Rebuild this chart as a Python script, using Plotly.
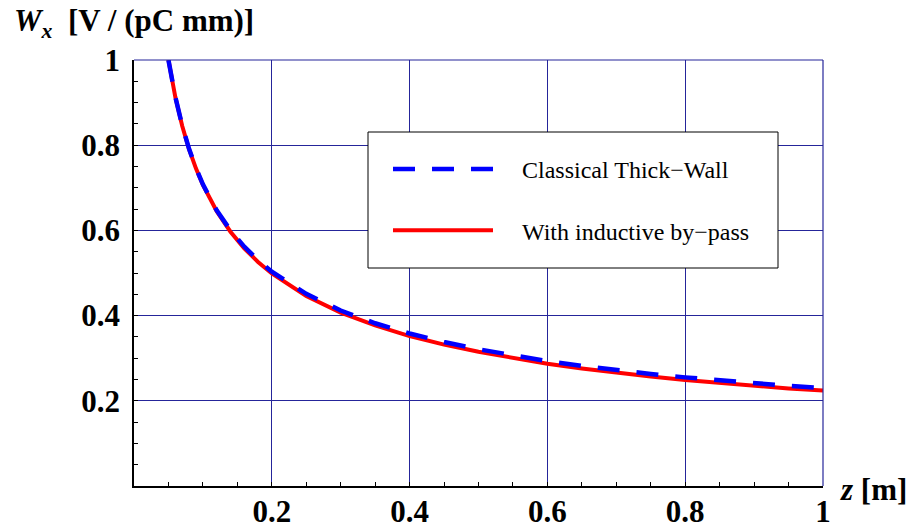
import plotly.graph_objects as go

# ---- data ----
z_vals = [0.05, 0.06, 0.07, 0.08, 0.09, 0.10, 0.12, 0.14, 0.16, 0.18, 0.20, 0.25, 0.30,
          0.35, 0.40, 0.45, 0.50, 0.55, 0.60, 0.65, 0.70, 0.75, 0.80, 0.85, 0.90, 0.95, 1.00]
w_bypass = [1.000, 0.913, 0.845, 0.790, 0.745, 0.707, 0.645, 0.597, 0.558, 0.526, 0.499,
            0.446, 0.407, 0.377, 0.352, 0.332, 0.315, 0.300, 0.287, 0.276, 0.266, 0.257,
            0.249, 0.242, 0.235, 0.229, 0.224]
w_classical = [1.000, 0.913, 0.846, 0.791, 0.746, 0.708, 0.647, 0.600, 0.562, 0.530, 0.503,
               0.451, 0.412, 0.382, 0.358, 0.338, 0.321, 0.306, 0.293, 0.282, 0.272, 0.263,
               0.255, 0.248, 0.241, 0.235, 0.230]
tick_vals = [0.2, 0.4, 0.6, 0.8, 1.0]
tick_text = ["0.2", "0.4", "0.6", "0.8", "1"]
series_names = ["Classical Thick\u2212Wall", "With inductive by\u2212pass"]

W, H = 911, 528
L, R, T, B = 134, 823, 60, 486
pw, ph = R - L, B - T


def px(x):
    return (x - L) / pw


def py(y):
    return (B - y) / ph


GRID = "#25259a"
SERIF = "'Liberation Serif', 'Times New Roman', Times, serif"
PAD = "\u00a0" * 4

fig = go.Figure()
fig.add_trace(go.Scatter(x=z_vals, y=w_bypass, mode="lines", name=PAD + series_names[1],
                         line=dict(color="#ff0000", width=4), legendgroup="b", legendrank=2))
fig.add_trace(go.Scatter(x=z_vals, y=w_classical, mode="lines", name=PAD + series_names[0],
                         line=dict(color="#0000ff", width=4.5, dash="22px,17px"),
                         legendgroup="a", legendrank=1))

axis_common = dict(
    tickvals=tick_vals, ticktext=tick_text, showgrid=True, gridcolor=GRID, gridwidth=1,
    showline=True, linecolor="black", linewidth=1.5, ticks="inside", ticklen=4,
    tickcolor="black", zeroline=False, automargin=False,
    tickfont=dict(family=SERIF, size=31, color="black", weight="bold"),
    minor=dict(dtick=0.05, tick0=0, ticks="inside", ticklen=4, tickcolor="black", showgrid=False),
)
fig.update_xaxes(range=[0, 1], ticklabelstandoff=-3, **axis_common)
fig.update_yaxes(range=[0, 1], ticklabelstandoff=6, **axis_common)

fig.update_layout(
    width=W, height=H,
    margin=dict(l=L, r=W - R, t=T, b=H - B, pad=0, autoexpand=False),
    plot_bgcolor="white", paper_bgcolor="white",
    showlegend=True,
    legend=dict(x=px(388), y=py(147), xanchor="left", yanchor="top",
                bgcolor="rgba(0,0,0,0)", borderwidth=0,
                font=dict(family=SERIF, size=24, color="black"),
                itemwidth=100, tracegroupgap=27, traceorder="grouped"),
    shapes=[
        # grid lines on the top and right edges of the frame
        dict(type="line", xref="paper", yref="paper", x0=0, x1=1, y0=1, y1=1,
             line=dict(color=GRID, width=1.2)),
        dict(type="line", xref="paper", yref="paper", x0=1, x1=1, y0=0, y1=1,
             line=dict(color=GRID, width=1.2)),
        # legend frame
        dict(type="rect", xref="paper", yref="paper", x0=px(368), x1=px(778),
             y0=py(268), y1=py(132), line=dict(color="black", width=1),
             fillcolor="white", layer="above"),
    ],
    annotations=[
        dict(text="<b><i>W</i><sub><i>x</i></sub>  [V / (pC mm)]</b>", xref="paper", yref="paper",
             x=px(12), y=py(23), xanchor="left", yanchor="middle", showarrow=False,
             font=dict(family=SERIF, size=31, color="black")),
        dict(text="<b><i>z</i> [m]</b>", xref="paper", yref="paper",
             x=px(838), y=py(490), xanchor="left", yanchor="middle", showarrow=False,
             font=dict(family=SERIF, size=31, color="black")),
    ],
)

fig.write_html("out.html")
